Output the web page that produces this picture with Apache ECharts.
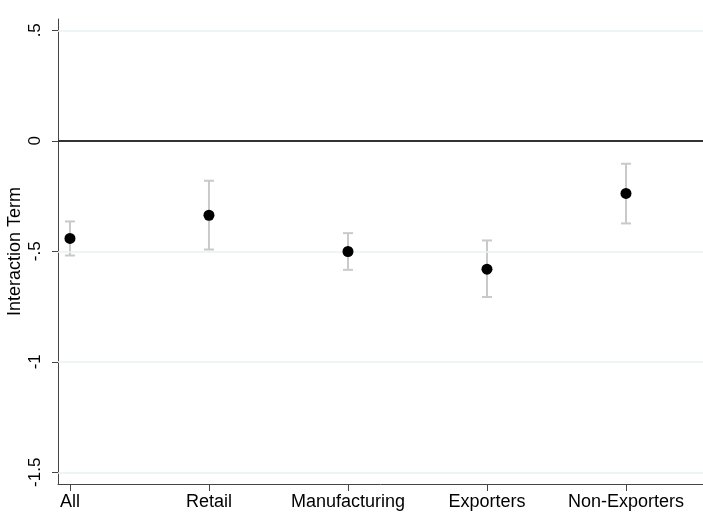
<!DOCTYPE html>
<html>
<head>
<meta charset="utf-8">
<script src="https://cdn.jsdelivr.net/npm/echarts@6/dist/echarts.min.js"></script>
<style>
  html, body { margin: 0; padding: 0; background: #fff; }
  #chart { width: 703px; height: 512px; }
</style>
</head>
<body>
<div id="chart"></div>
<script>
// Interaction-term estimates with confidence intervals by sample
const categories = ['All', 'Retail', 'Manufacturing', 'Exporters', 'Non-Exporters'];
const estimates = [-0.442, -0.337, -0.501, -0.581, -0.238];
const ciLower = [-0.519, -0.492, -0.584, -0.707, -0.374];
const ciUpper = [-0.365, -0.181, -0.418, -0.451, -0.104];
const yTicks = [0.5, 0, -0.5, -1, -1.5];
const yTickLabels = ['.5', '0', '-.5', '-1', '-1.5'];
const catPositions = categories.map((_, i) => i + 1);

const FONT = '"Liberation Sans", Arial, sans-serif';

const pointData = catPositions.map((x, i) => [x, estimates[i]]);
const ciData = catPositions.map((x, i) => [x, ciLower[i], ciUpper[i]]);

const gridLines = yTicks.filter(v => v !== 0).map(v => ({ yAxis: v }));

const chart = echarts.init(document.getElementById('chart'), null, { renderer: 'canvas' });
chart.setOption({
  animation: false,
  backgroundColor: '#ffffff',
  grid: { left: 58, right: 0, top: 19, bottom: 28, containLabel: false, outerBoundsMode: 'none' },
  xAxis: {
    type: 'value',
    min: 0.914,
    max: 5.554,
    axisLine: { show: true, onZero: false, lineStyle: { color: '#444', width: 1 } },
    axisTick: { show: true, length: 7, customValues: catPositions, lineStyle: { color: '#444' } },
    axisLabel: {
      customValues: catPositions,
      formatter: v => categories[Math.round(v) - 1] || '',
      color: '#000', fontFamily: FONT, fontSize: 18, margin: 9
    },
    splitLine: { show: false }
  },
  yAxis: {
    type: 'value',
    min: -1.553,
    max: 0.551,
    name: 'Interaction Term',
    nameLocation: 'middle',
    nameGap: 34,
    nameMoveOverlap: false,
    nameTextStyle: { color: '#000', fontFamily: FONT, fontSize: 18 },
    axisLine: { show: true, onZero: false, lineStyle: { color: '#444', width: 1 } },
    axisTick: { show: true, length: 6, customValues: yTicks, lineStyle: { color: '#444' } },
    axisLabel: {
      customValues: yTicks,
      rotate: 90,
      formatter: v => {
        const i = yTicks.findIndex(t => Math.abs(t - v) < 1e-9);
        return i >= 0 ? yTickLabels[i] : '';
      },
      color: '#000', fontFamily: FONT, fontSize: 17, margin: 14
    },
    splitLine: { show: false }
  },
  series: [
    {
      type: 'line',
      data: [],
      silent: true,
      markLine: {
        silent: true,
        symbol: 'none',
        label: { show: false },
        lineStyle: { color: '#eaf1f3', width: 1.5, type: 'solid' },
        data: gridLines
      }
    },
    {
      type: 'line',
      data: [],
      silent: true,
      z: 3,
      markLine: {
        silent: true,
        symbol: 'none',
        label: { show: false },
        lineStyle: { color: '#333', width: 2, type: 'solid' },
        data: [{ yAxis: 0 }]
      }
    },
    {
      type: 'custom',
      z: 4,
      data: ciData,
      renderItem: (params, api) => {
        const x = api.value(0);
        const lo = api.coord([x, api.value(1)]);
        const hi = api.coord([x, api.value(2)]);
        const cap = 5;
        const style = { stroke: '#c9c9c9', lineWidth: 2 };
        return {
          type: 'group',
          children: [
            { type: 'line', shape: { x1: lo[0], y1: lo[1], x2: hi[0], y2: hi[1] }, style },
            { type: 'line', shape: { x1: lo[0] - cap, y1: lo[1], x2: lo[0] + cap, y2: lo[1] }, style },
            { type: 'line', shape: { x1: hi[0] - cap, y1: hi[1], x2: hi[0] + cap, y2: hi[1] }, style }
          ]
        };
      }
    },
    {
      type: 'scatter',
      z: 5,
      data: pointData,
      symbol: 'circle',
      symbolSize: 11,
      itemStyle: { color: '#000', opacity: 1 }
    }
  ]
});
</script>
</body>
</html>
